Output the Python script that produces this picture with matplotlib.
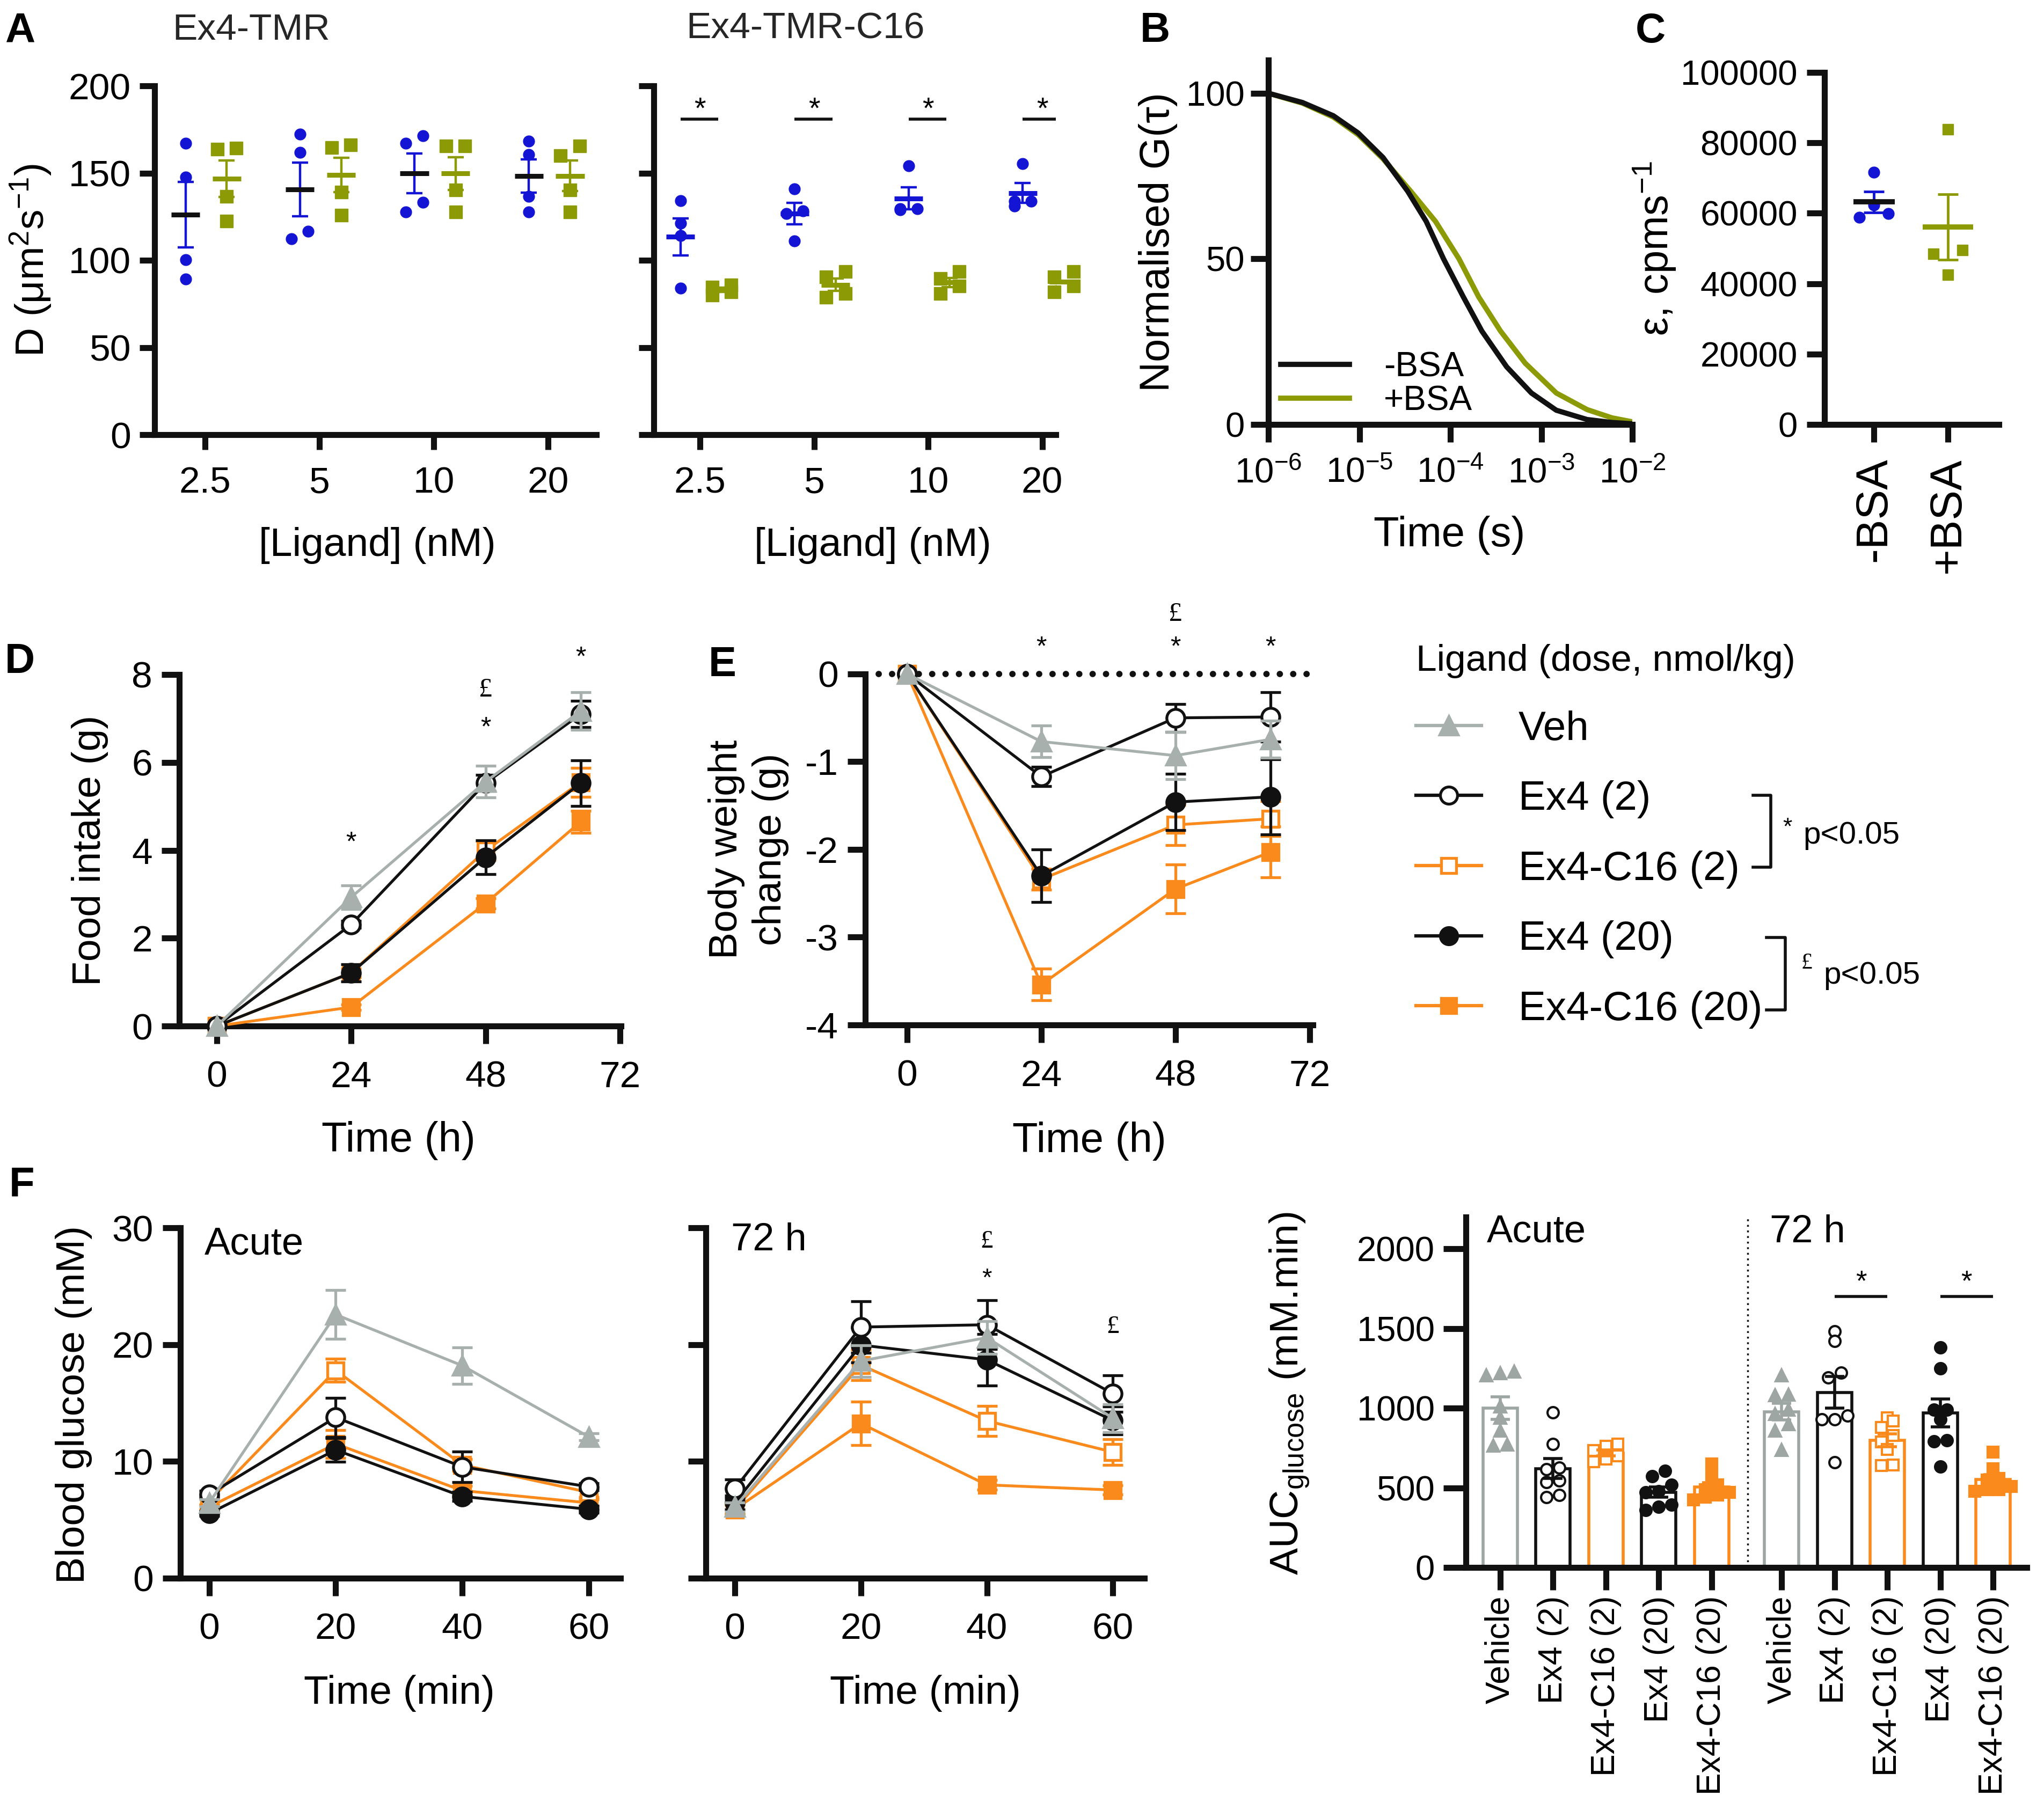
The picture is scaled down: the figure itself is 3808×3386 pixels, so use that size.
import numpy as np
import matplotlib
matplotlib.use('Agg')
import matplotlib.pyplot as plt
from matplotlib import font_manager as fm
from matplotlib.lines import Line2D
from matplotlib.ticker import NullLocator

# ------------------------------------------------------------------ data
conc_labels = ['2.5', '5', '10', '20']
# Panel A: diffusion coefficient D (um^2/s), 4 replicates per concentration
d_tmr_noBSA = [[167.2, 147.8, 100.3, 89.1], [172.2, 161.8, 116.5, 112.2],
               [171.5, 167.2, 133.1, 127.7], [168.3, 160.7, 136.6, 127.7]]
d_tmr_BSA = [[164.4, 163.8, 136.6, 122.5], [166.1, 164.6, 139.2, 125.8],
             [165.5, 165.5, 140.2, 127.7], [165.5, 160.1, 140.2, 127.7]]
d_c16_noBSA = [[134.2, 121.3, 114.3, 84.1], [140.9, 128.4, 126.9, 111.1],
               [154.3, 129.4, 129.4, 128.9], [155.3, 134.0, 133.8, 131.0]]
d_c16_BSA = [[86.0, 84.5, 82.0, 80.0], [93.4, 90.6, 80.9, 78.8],
             [93.4, 89.5, 85.2, 80.9], [93.4, 90.6, 85.2, 82.0]]

# Panel B: normalised autocorrelation curves
tau_noBSA = [1.0e-6, 2.37e-6, 5.18e-6, 9.7e-6, 1.82e-5, 3.4e-5, 5.43e-5, 8.42e-5,
             1.39e-4, 2.22e-4, 4.16e-4, 7.78e-4, 1.46e-3, 3.18e-3, 5.97e-3, 1.0e-2]
g_noBSA = [100, 97.2, 93.2, 88.0, 80.6, 70.4, 61.3, 50.0,
           38.5, 28.2, 17.4, 9.5, 4.3, 1.5, 0.6, 0.2]
tau_BSA = [1.0e-6, 2.37e-6, 5.18e-6, 9.7e-6, 1.82e-5, 3.67e-5, 6.87e-5, 1.245e-4,
           2.05e-4, 3.56e-4, 6.65e-4, 1.46e-3, 3.18e-3, 5.97e-3, 1.0e-2]
g_BSA = [100, 97.0, 92.8, 87.5, 80.2, 70.4, 61.3, 50.0,
         38.5, 28.2, 18.5, 9.5, 4.5, 2.0, 0.8]

# Panel C: brightness (cpm/s)
c_labels = ['-BSA', '+BSA']
eps_noBSA = [71700, 62400, 59900, 58800]
eps_BSA = [83800, 49500, 48500, 42600]

# Panel D / E
time_h = [0, 24, 48, 65]
food_veh = [0, 2.93, 5.56, 7.17];     food_veh_sem = [0, 0.27, 0.36, 0.43]
food_ex4_2 = [0, 2.31, 5.53, 7.10];   food_ex4_2_sem = [0, 0.08, 0.18, 0.30]
food_c16_2 = [0, 1.21, 3.99, 5.55];   food_c16_2_sem = [0, 0.10, 0.22, 0.33]
food_ex4_20 = [0, 1.21, 3.84, 5.53];  food_ex4_20_sem = [0, 0.20, 0.38, 0.52]
food_c16_20 = [0, 0.43, 2.79, 4.65];  food_c16_20_sem = [0, 0.06, 0.12, 0.25]

bw_veh = [0, -0.77, -0.93, -0.745];   bw_veh_sem = [0, 0.18, 0.27, 0.21]
bw_ex4_2 = [0, -1.17, -0.50, -0.49];  bw_ex4_2_sem = [0, 0.11, 0.16, 0.28]
bw_c16_2 = [0, -2.34, -1.72, -1.65];  bw_c16_2_sem = [0, 0.12, 0.23, 0.20]
bw_ex4_20 = [0, -2.30, -1.46, -1.40]; bw_ex4_20_sem = [0, 0.30, 0.32, 0.43]
bw_c16_20 = [0, -3.54, -2.45, -2.03]; bw_c16_20_sem = [0, 0.18, 0.28, 0.29]

# Panel F: blood glucose (mM)
time_min = [0, 20, 40, 60]
gl_acute_veh = [6.45, 22.57, 18.2, 12.1];   gl_acute_veh_sem = [0.3, 2.1, 1.55, 0.3]
gl_acute_ex4_2 = [7.17, 13.77, 9.53, 7.83]; gl_acute_ex4_2_sem = [0.3, 1.67, 1.3, 0.3]
gl_acute_c16_2 = [6.6, 17.8, 9.7, 7.35];    gl_acute_c16_2_sem = [0.3, 1.0, 0.5, 0.4]
gl_acute_ex4_20 = [5.54, 10.98, 7.0, 5.9];  gl_acute_ex4_20_sem = [0.2, 1.0, 0.4, 0.3]
gl_acute_c16_20 = [6.1, 11.5, 7.5, 6.45];   gl_acute_c16_20_sem = [0.2, 1.2, 0.4, 0.3]

gl_72h_veh = [6.1, 18.6, 20.6, 13.7];      gl_72h_veh_sem = [0.4, 1.35, 1.4, 1.2]
gl_72h_ex4_2 = [7.66, 21.5, 21.7, 15.8];   gl_72h_ex4_2_sem = [0.8, 2.2, 2.1, 1.55]
gl_72h_c16_2 = [5.9, 18.25, 13.47, 10.8];  gl_72h_c16_2_sem = [0.4, 1.3, 1.3, 1.1]
gl_72h_ex4_20 = [6.46, 19.96, 18.7, 13.5]; gl_72h_ex4_20_sem = [0.6, 1.5, 2.2, 1.2]
gl_72h_c16_20 = [5.9, 13.25, 7.99, 7.55];  gl_72h_c16_20_sem = [0.4, 1.85, 0.4, 0.4]

# AUC glucose (mM.min)
auc_labels = ['Vehicle', 'Ex4 (2)', 'Ex4-C16 (2)', 'Ex4 (20)', 'Ex4-C16 (20)']
auc_acute_veh = [1218, 1205, 1231, 1010, 939, 859, 766, 771]
auc_acute_ex4_2 = [975, 775, 625, 615, 545, 535, 455, 440]
auc_acute_c16_2 = [775, 760, 735, 700, 680, 665]
auc_acute_ex4_20 = [606, 574, 520, 480, 470, 380, 360, 395]
auc_acute_c16_20 = [650, 580, 520, 490, 470, 455, 440, 425]
auc_72h_veh = [1205, 1085, 1080, 965, 992, 899, 859, 739]
auc_72h_ex4_2 = [1484, 1423, 1191, 1223, 952, 931, 931, 660]
auc_72h_c16_2 = [940, 920, 880, 830, 790, 740, 640, 645]
auc_72h_ex4_20 = [1383, 1250, 992, 992, 931, 793, 798, 633]
auc_72h_c16_20 = [726, 620, 560, 550, 510, 490, 480, 490]

legend_labels = ['Veh', 'Ex4 (2)', 'Ex4-C16 (2)', 'Ex4 (20)', 'Ex4-C16 (20)']

# ------------------------------------------------------------------ style
_names = {f.name for f in fm.fontManager.ttflist}
REG = 'Liberation Sans' if 'Liberation Sans' in _names else 'DejaVu Sans'
NAR = 'Liberation Sans Narrow' if 'Liberation Sans Narrow' in _names else REG
SER = 'Liberation Serif' if 'Liberation Serif' in _names else 'DejaVu Serif'
plt.rcParams['font.family'] = [REG, 'DejaVu Sans']
plt.rcParams['mathtext.fontset'] = 'custom'
plt.rcParams['mathtext.rm'] = REG
plt.rcParams['mathtext.it'] = REG + ':italic'
plt.rcParams['mathtext.bf'] = REG + ':bold'

BLUE = '#1414D4'
OLIVE = '#8C9A06'
BLACK = '#111111'
GRAY = '#A8B0AD'
ORANGE = '#FA8A1C'

TFS = 50      # tick label size
NFS = 47      # size used for the condensed-looking tick labels
LFS = 54      # axis label size
SPW = 8       # spine / tick width

W, H = 3808, 3386
fig = plt.figure(figsize=(W / 100, H / 100), dpi=100)


def px_ax(l, r, t, b):
    return fig.add_axes([l / W, 1 - b / H, (r - l) / W, (b - t) / H])


def style(ax, tl=24, xpad=20, ypad=12):
    ax.spines['top'].set_visible(False)
    ax.spines['right'].set_visible(False)
    for s in ('left', 'bottom'):
        ax.spines[s].set_linewidth(SPW)
        ax.spines[s].set_color(BLACK)
    ax.tick_params(which='major', length=tl, width=SPW, labelsize=TFS,
                   direction='out', color=BLACK)
    ax.tick_params(axis='x', pad=xpad)
    ax.tick_params(axis='y', pad=ypad)
    ax.patch.set_alpha(0)


def swarm(ax, x0, vals, size_pt, thresh=0.75, spread=1.1, mode='row'):
    """Spread overlapping points horizontally.
    mode 'row'   : points within thresh*diameter of a cluster's first point share a row.
    mode 'zigzag': chained overlapping points alternate left/right."""
    vals = np.asarray(vals, float)
    t = ax.transData
    p0 = t.transform((x0, 0.0))
    p1 = t.transform((x0 + 1.0, 1.0))
    ppx = abs(p1[0] - p0[0])
    ppy = abs(p1[1] - p0[1])
    d_px = size_pt * fig.dpi / 72.0
    dy = d_px / ppy
    dx = d_px / ppx
    xs = np.full(len(vals), float(x0))
    order = np.argsort(vals)
    clusters = [[order[0]]]
    for idx in order[1:]:
        ref = clusters[-1][0] if mode == 'row' else clusters[-1][-1]
        if vals[idx] - vals[ref] > thresh * dy:
            clusters.append([idx])
        else:
            clusters[-1].append(idx)
    for cl in clusters:
        k = len(cl)
        if k == 1:
            continue
        for j, idx in enumerate(cl):
            if mode == 'row':
                xs[idx] = x0 + (j - (k - 1) / 2.0) * dx * spread
            else:
                xs[idx] = x0 + (-0.5 if j % 2 == 0 else 0.5) * dx * spread
    return xs


def sem(v):
    v = np.asarray(v, float)
    return v.std(ddof=1) / np.sqrt(len(v))


# ------------------------------------------------------------------ panel A
def panel_A(ax, noBSA, BSA, mean_col):
    for i in range(len(conc_labels)):
        for vals, off, col, mk, ms, mcol in ((noBSA[i], -0.17, BLUE, 'o', 15, mean_col),
                                             (BSA[i], 0.19, OLIVE, 's', 17, OLIVE)):
            v = np.asarray(vals, float)
            m = v.mean()
            xs = swarm(ax, i + off, v, ms, thresh=1.0, spread=1.5, mode='zigzag')
            ax.plot(xs, v, ls='none', marker=mk, ms=ms, color=col, mec=col, zorder=3,
                    clip_on=False)
            ax.errorbar(i + off, m, yerr=sem(v), fmt='none', ecolor=col, elinewidth=3.2,
                        capsize=11, capthick=3.2, zorder=4)
            ax.hlines(m, i + off - 0.125, i + off + 0.125, colors=mcol, lw=6.5, zorder=5,
                      clip_on=False)
    ax.set_xticks(range(len(conc_labels)), conc_labels)


axA1 = px_ax(288, 1111, 160, 810)
axA1.set_xlim(-0.44, 3.42)
axA1.set_ylim(0, 200)
style(axA1, tl=20, xpad=22, ypad=12)
panel_A(axA1, d_tmr_noBSA, d_tmr_BSA, BLACK)
axA1.set_yticks([0, 50, 100, 150, 200], ['0', '50', '100', '150', '200'])
axA1.set_ylabel(r'D (μm$^{\mathregular{2}}$s$^{\mathregular{-1}}$)', fontsize=LFS)
axA1.yaxis.set_label_coords(-0.228, 0.5)
axA1.set_xlabel('[Ligand] (nM)', fontsize=LFS)
axA1.xaxis.set_label_coords(0.504, -0.265)

axA2 = px_ax(1218, 1967, 160, 810)
axA2.set_xlim(-0.405, 3.12)
axA2.set_ylim(0, 200)
style(axA2, tl=20, xpad=22, ypad=12)
panel_A(axA2, d_c16_noBSA, d_c16_BSA, BLUE)
axA2.set_yticks([0, 50, 100, 150, 200], ['', '', '', '', ''])
axA2.set_xlabel('[Ligand] (nM)', fontsize=LFS)
axA2.xaxis.set_label_coords(0.545, -0.265)
for i in range(len(conc_labels)):
    axA2.hlines(181, i - 0.17, i + 0.16, colors=BLACK, lw=4)
    axA2.text(i, 186, '*', ha='center', va='center', fontsize=40)

fig.text(321 / W, 1 - 56 / H, 'Ex4-TMR', fontsize=50, color='#262626', ha='left', va='center')
fig.text(1278 / W, 1 - 53 / H, 'Ex4-TMR-C16', fontsize=50, color='#262626', ha='left', va='center')

# ------------------------------------------------------------------ panel B
axB = px_ax(2363, 3041, 112, 791)
axB.set_xscale('log')
axB.set_xlim(1e-6, 1e-2)
axB.set_ylim(0, 110)
style(axB, tl=24, xpad=20, ypad=8)
hB2, = axB.plot(tau_BSA, g_BSA, color=OLIVE, lw=7, solid_joinstyle='round', zorder=2)
hB1, = axB.plot(tau_noBSA, g_noBSA, color=BLACK, lw=7, solid_joinstyle='round', zorder=3)
axB.xaxis.set_minor_locator(NullLocator())
dec = [1e-6, 1e-5, 1e-4, 1e-3, 1e-2]
axB.set_xticks(dec, [r'$\mathregular{10^{%d}}$' % int(round(np.log10(d))) for d in dec],
               fontfamily=NAR, fontsize=NFS)
axB.set_yticks([0, 50, 100], ['0', '50', '100'], fontfamily=NAR, fontsize=NFS)
axB.set_ylabel('Normalised G(τ)', fontsize=LFS + 2)
axB.yaxis.set_label_coords(-0.25, 0.5)
axB.set_xlabel('Time (s)', fontsize=LFS + 2, fontfamily=NAR)
axB.xaxis.set_label_coords(0.497, -0.25)
axB.legend([hB1, hB2], ['-BSA', '+BSA'], loc='lower left', bbox_to_anchor=(0.034, 0.02),
           frameon=False, prop={'family': NAR, 'size': 46}, handlelength=2.0,
           handletextpad=1.0, labelspacing=0.05, borderpad=0, borderaxespad=0)

# ------------------------------------------------------------------ panel C
axC = px_ax(3399, 3724, 135, 791)
axC.set_xlim(-0.67, 1.69)
axC.set_ylim(0, 100000)
style(axC, tl=24, xpad=20, ypad=12)
for i, (vals, col, mk, ms, mcol, hw) in enumerate(((eps_noBSA, BLUE, 'o', 15, BLACK, 0.28),
                                                  (eps_BSA, OLIVE, 's', 15, OLIVE, 0.34))):
    v = np.asarray(vals, float)
    m = v.mean()
    xs = swarm(axC, i, v, ms, thresh=0.75, spread=2.6)
    axC.plot(xs, v, ls='none', marker=mk, ms=ms, color=col, mec=col, zorder=3)
    axC.errorbar(i, m, yerr=sem(v), fmt='none', ecolor=col, elinewidth=3.5,
                 capsize=14, capthick=3.5, zorder=4)
    axC.hlines(m, i - hw, i + hw, colors=mcol, lw=7, zorder=5)
axC.set_yticks(range(0, 100001, 20000), [str(v) for v in range(0, 100001, 20000)],
               fontfamily=NAR, fontsize=NFS)
axC.set_xticks([0, 1], c_labels, rotation=90, fontsize=60)
axC.set_ylabel(r'ε, cpms$^{\mathregular{-1}}$', fontsize=LFS + 2)
axC.yaxis.set_label_coords(-0.84, 0.5)

# ------------------------------------------------------------------ D / E / F helpers
STY = {
    'veh': dict(color=GRAY, marker='^', mfc=GRAY, mec=GRAY, ms=25),
    'ex4_2': dict(color=BLACK, marker='o', mfc='white', mec=BLACK, ms=24),
    'c16_2': dict(color=ORANGE, marker='s', mfc='white', mec=ORANGE, ms=21),
    'ex4_20': dict(color=BLACK, marker='o', mfc=BLACK, mec=BLACK, ms=24),
    'c16_20': dict(color=ORANGE, marker='s', mfc=ORANGE, mec=ORANGE, ms=21),
}
ORDER = ['c16_20', 'c16_2', 'ex4_20', 'ex4_2', 'veh']


def line_panel(ax, t, means, sems):
    t = np.asarray(t, float)
    for z, key in enumerate(ORDER):
        st = STY[key]
        m = np.asarray(means[key], float)
        s = np.asarray(sems[key], float)
        mask = s > 0
        ax.errorbar(t[mask], m[mask], yerr=s[mask], fmt='none', ecolor=st['color'],
                    elinewidth=3.8, capsize=14, capthick=3.8, zorder=3 + z)
        ax.plot(t, m, color=st['color'], lw=3.8, marker=st['marker'], ms=st['ms'],
                mfc=st['mfc'], mec=st['mec'], mew=3.8, clip_on=False, zorder=3 + z)


# ------------------------------------------------------------------ panel D
axD = px_ax(334, 1157, 1257, 1912)
axD.set_xlim(-6.7, 72.2)
axD.set_ylim(0, 8)
style(axD, tl=24, xpad=22, ypad=12)
line_panel(axD, time_h,
           dict(veh=food_veh, ex4_2=food_ex4_2, c16_2=food_c16_2, ex4_20=food_ex4_20, c16_20=food_c16_20),
           dict(veh=food_veh_sem, ex4_2=food_ex4_2_sem, c16_2=food_c16_2_sem,
                ex4_20=food_ex4_20_sem, c16_20=food_c16_20_sem))
axD.set_xticks([0, 24, 48, 72], ['0', '24', '48', '72'], fontfamily=NAR)
axD.set_yticks([0, 2, 4, 6, 8], ['0', '2', '4', '6', '8'], fontfamily=NAR)
axD.set_ylabel('Food intake (g)', fontsize=LFS)
axD.yaxis.set_label_coords(-0.16, 0.5)
axD.set_xlabel('Time (h)', fontsize=LFS + 2, fontfamily=NAR)
axD.xaxis.set_label_coords(0.496, -0.27)
for x, y, s, fam in ((24, 4.16, '*', NAR), (48, 6.77, '*', NAR), (48, 7.65, '£', SER), (65, 8.37, '*', NAR)):
    axD.text(x, y, s, ha='center', va='center', fontsize=36, fontfamily=fam, clip_on=False)

# ------------------------------------------------------------------ panel E
axE = px_ax(1612, 2446, 1256, 1910)
axE.set_xlim(-7.5, 72.6)
axE.set_ylim(-4, 0)
style(axE, tl=24, xpad=22, ypad=12)
axE.axhline(0, xmin=0.03, xmax=1.0, color=BLACK, lw=8.5, ls=(0, (0.01, 2.1)),
            dash_capstyle='round', clip_on=False, zorder=2)
line_panel(axE, time_h,
           dict(veh=bw_veh, ex4_2=bw_ex4_2, c16_2=bw_c16_2, ex4_20=bw_ex4_20, c16_20=bw_c16_20),
           dict(veh=bw_veh_sem, ex4_2=bw_ex4_2_sem, c16_2=bw_c16_2_sem,
                ex4_20=bw_ex4_20_sem, c16_20=bw_c16_20_sem))
axE.set_xticks([0, 24, 48, 72], ['0', '24', '48', '72'], fontfamily=NAR)
axE.set_yticks([-4, -3, -2, -1, 0], ['-4', '-3', '-2', '-1', '0'], fontfamily=NAR)
axE.set_ylabel('Body weight\nchange (g)', fontsize=LFS, linespacing=1.25)
axE.yaxis.set_label_coords(-0.17, 0.5)
axE.set_xlabel('Time (h)', fontsize=LFS + 2, fontfamily=NAR)
axE.xaxis.set_label_coords(0.5, -0.275)
for x, y, s, fam in ((24, 0.30, '*', NAR), (48, 0.30, '*', NAR), (48, 0.68, '£', SER), (65, 0.30, '*', NAR)):
    axE.text(x, y, s, ha='center', va='center', fontsize=36, fontfamily=fam, clip_on=False)

# ------------------------------------------------------------------ legend
leg_handles = [Line2D([], [], color=STY[k]['color'], lw=4.5, marker=STY[k]['marker'],
                      ms=STY[k]['ms'] - 1, mfc=STY[k]['mfc'], mec=STY[k]['mec'], mew=3.8)
               for k in ['veh', 'ex4_2', 'c16_2', 'ex4_20', 'c16_20']]
fig.legend(leg_handles, legend_labels, loc='upper left',
           bbox_to_anchor=(2638 / W, 1 - 1200 / H), frameon=False,
           title='Ligand (dose, nmol/kg)', alignment='left',
           prop={'family': NAR, 'size': 55},
           title_fontproperties={'family': NAR, 'size': 50},
           handlelength=1.6, handletextpad=0.9, labelspacing=0.78,
           borderpad=0, borderaxespad=0)

for (x1, x2, y1, y2) in ((3266, 3299, 1482, 1616), (3291, 3326, 1747, 1882)):
    fig.add_artist(Line2D([x1 / W, x2 / W, x2 / W, x1 / W],
                          [1 - y1 / H, 1 - y1 / H, 1 - y2 / H, 1 - y2 / H],
                          color=BLACK, lw=4, transform=fig.transFigure))
fig.text(3330 / W, 1 - 1543 / H, '*', fontsize=32, fontfamily=NAR, ha='center', va='center')
fig.text(3359 / W, 1 - 1572 / H, 'p<0.05', fontsize=42, fontfamily=NAR, ha='left', va='baseline')
fig.text(3366 / W, 1 - 1795 / H, '£', fontsize=30, fontfamily=SER, ha='center', va='center')
fig.text(3397 / W, 1 - 1833 / H, 'p<0.05', fontsize=42, fontfamily=NAR, ha='left', va='baseline')

# ------------------------------------------------------------------ panel F (time courses)
axF1 = px_ax(336, 1156, 2288, 2941)
axF1.set_xlim(-4.55, 65)
axF1.set_ylim(0, 30)
style(axF1, tl=24, xpad=22, ypad=12)
line_panel(axF1, time_min,
           dict(veh=gl_acute_veh, ex4_2=gl_acute_ex4_2, c16_2=gl_acute_c16_2,
                ex4_20=gl_acute_ex4_20, c16_20=gl_acute_c16_20),
           dict(veh=gl_acute_veh_sem, ex4_2=gl_acute_ex4_2_sem, c16_2=gl_acute_c16_2_sem,
                ex4_20=gl_acute_ex4_20_sem, c16_20=gl_acute_c16_20_sem))
axF1.set_xticks([0, 20, 40, 60], ['0', '20', '40', '60'])
axF1.set_yticks([0, 10, 20, 30], ['0', '10', '20', '30'])
axF1.set_ylabel('Blood glucose (mM)', fontsize=LFS)
axF1.yaxis.set_label_coords(-0.2, 0.496)
axF1.set_xlabel('Time (min)', fontsize=LFS)
axF1.xaxis.set_label_coords(0.498, -0.275)
axF1.text(0.055, 0.952, 'Acute', transform=axF1.transAxes, fontsize=52, ha='left', va='center')

axF2 = px_ax(1315, 2132, 2288, 2941)
axF2.set_xlim(-4.6, 65)
axF2.set_ylim(0, 30)
style(axF2, tl=24, xpad=22, ypad=12)
line_panel(axF2, time_min,
           dict(veh=gl_72h_veh, ex4_2=gl_72h_ex4_2, c16_2=gl_72h_c16_2,
                ex4_20=gl_72h_ex4_20, c16_20=gl_72h_c16_20),
           dict(veh=gl_72h_veh_sem, ex4_2=gl_72h_ex4_2_sem, c16_2=gl_72h_c16_2_sem,
                ex4_20=gl_72h_ex4_20_sem, c16_20=gl_72h_c16_20_sem))
axF2.set_xticks([0, 20, 40, 60], ['0', '20', '40', '60'])
axF2.set_yticks([0, 10, 20, 30], ['', '', '', ''])
axF2.set_xlabel('Time (min)', fontsize=LFS)
axF2.xaxis.set_label_coords(0.5, -0.275)
axF2.text(0.058, 0.964, '72 h', transform=axF2.transAxes, fontsize=52, ha='left', va='center')
for x, y, s, fam in ((40, 25.6, '*', NAR), (40, 28.8, '£', SER), (60, 21.5, '£', SER)):
    axF2.text(x, y, s, ha='center', va='center', fontsize=34, fontfamily=fam)

# ------------------------------------------------------------------ panel F (AUC)
axG = px_ax(2731, 3776, 2268, 2921)
axG.set_xlim(-0.65, 9.97)
axG.set_ylim(0, 2200)
style(axG, tl=30, xpad=8, ypad=12)
auc_sty = [dict(edge='#9EA6A3', marker='^', mfc='#9EA6A3', mec='#9EA6A3', ms=16),
           dict(edge=BLACK, marker='o', mfc='white', mec=BLACK, ms=15),
           dict(edge=ORANGE, marker='s', mfc='white', mec=ORANGE, ms=14),
           dict(edge=BLACK, marker='o', mfc=BLACK, mec=BLACK, ms=15),
           dict(edge=ORANGE, marker='s', mfc=ORANGE, mec=ORANGE, ms=14)]
pos_acute = np.arange(5)
pos_72h = np.arange(5) + 5.33
groups_acute = [auc_acute_veh, auc_acute_ex4_2, auc_acute_c16_2, auc_acute_ex4_20, auc_acute_c16_20]
groups_72h = [auc_72h_veh, auc_72h_ex4_2, auc_72h_c16_2, auc_72h_ex4_20, auc_72h_c16_20]
for positions, groups in ((pos_acute, groups_acute), (pos_72h, groups_72h)):
    for p, vals, st in zip(positions, groups, auc_sty):
        v = np.asarray(vals, float)
        m = v.mean()
        axG.bar(p, m, width=0.65, facecolor='white', edgecolor=st['edge'], linewidth=4, zorder=2)
        xs = swarm(axG, p, v, st['ms'], thresh=0.75, spread=1.15)
        axG.plot(xs, v, ls='none', marker=st['marker'], ms=st['ms'], mfc=st['mfc'],
                 mec=st['mec'], mew=3, zorder=3)
        axG.errorbar(p, m, yerr=sem(v), fmt='none', ecolor=st['edge'], elinewidth=4,
                     capsize=13, capthick=4, zorder=4)
axG.axvline(4.69, ymin=0, ymax=1, color=BLACK, lw=2.5, ls=(0, (1, 2)))
axG.set_xticks(list(pos_acute) + list(pos_72h), auc_labels + auc_labels, rotation=90, fontsize=45)
axG.set_yticks([0, 500, 1000, 1500, 2000], ['0', '500', '1000', '1500', '2000'],
               fontfamily=NAR, fontsize=NFS)
axG.set_ylabel(r'AUC$_{\mathregular{glucose}}$ (mM.min)', fontsize=LFS)
axG.yaxis.set_label_coords(-0.275, 0.496)
axG.text(0.037, 0.957, 'Acute', transform=axG.transAxes, fontsize=52, fontfamily=NAR,
         ha='left', va='center')
axG.text(0.542, 0.957, '72 h', transform=axG.transAxes, fontsize=52, fontfamily=NAR,
         ha='left', va='center')
for a, b in ((pos_72h[1], pos_72h[2]), (pos_72h[3], pos_72h[4])):
    axG.hlines(1702, a, b, colors=BLACK, lw=4)
    axG.text((a + b) / 2, 1790, '*', ha='center', va='center', fontsize=38, fontfamily=NAR)

# ------------------------------------------------------------------ panel letters
for (x, y, s) in ((37, 58, 'A'), (2152, 58, 'B'), (3075, 58, 'C'),
                  (37, 1234, 'D'), (1346, 1239, 'E'), (41, 2209, 'F')):
    fig.text(x / W, 1 - y / H, s, fontsize=56, fontweight='bold', ha='center', va='center')

fig.savefig('out.png', dpi=100)
